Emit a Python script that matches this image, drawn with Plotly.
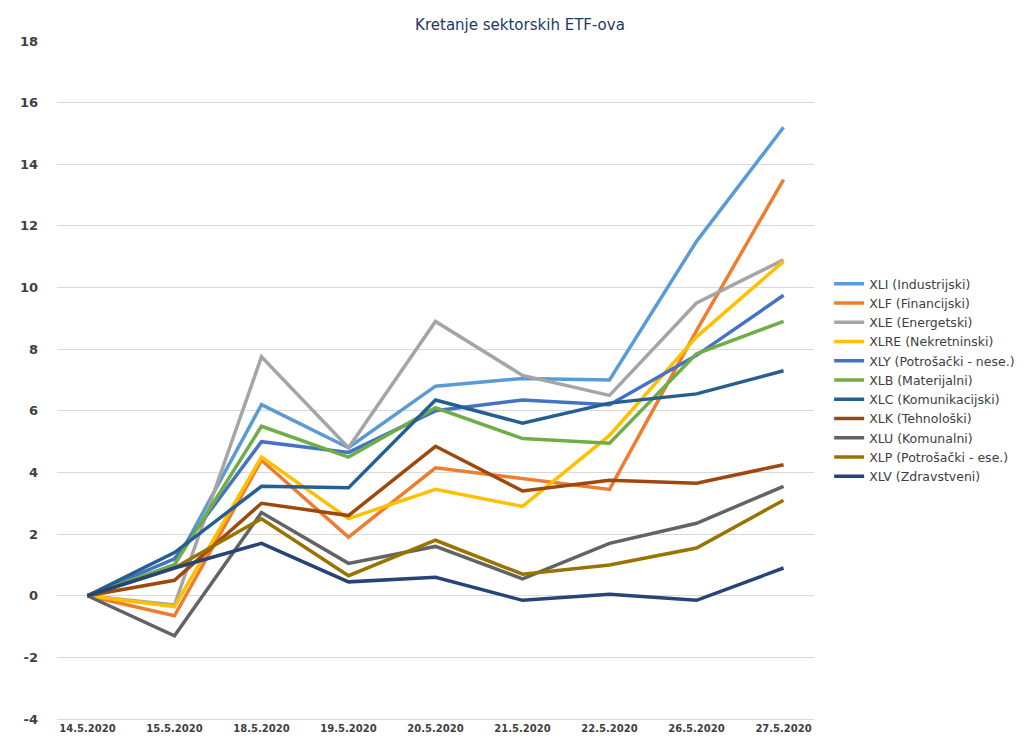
import plotly.graph_objects as go

dates = ["14.5.2020","15.5.2020","18.5.2020","19.5.2020","20.5.2020","21.5.2020","22.5.2020","26.5.2020","27.5.2020"]
names = ["XLI (Industrijski)","XLF (Financijski)","XLE (Energetski)","XLRE (Nekretninski)","XLY (Potrošački - nese.)",
         "XLB (Materijalni)","XLC (Komunikacijski)","XLK (Tehnološki)","XLU (Komunalni)","XLP (Potrošački - ese.)","XLV (Zdravstveni)"]
xli = [0, 1.0, 6.2, 4.8, 6.8, 7.05, 7.0, 11.5, 15.2]
xlf = [0, -0.65, 4.4, 1.9, 4.15, 3.8, 3.45, 8.6, 13.5]
xle = [0, -0.3, 7.75, 4.8, 8.9, 7.15, 6.5, 9.5, 10.9]
xlre = [0, -0.35, 4.5, 2.5, 3.45, 2.9, 5.2, 8.4, 10.85]
xly = [0, 1.2, 5.0, 4.65, 6.0, 6.35, 6.2, 7.8, 9.75]
xlb = [0, 1.0, 5.5, 4.5, 6.1, 5.1, 4.95, 7.85, 8.9]
xlc = [0, 1.4, 3.55, 3.5, 6.35, 5.6, 6.25, 6.55, 7.3]
xlk = [0, 0.5, 3.0, 2.6, 4.85, 3.4, 3.75, 3.65, 4.25]
xlu = [0, -1.3, 2.7, 1.05, 1.6, 0.55, 1.7, 2.35, 3.55]
xlp = [0, 0.9, 2.5, 0.65, 1.8, 0.7, 1.0, 1.55, 3.1]
xlv = [0, 0.9, 1.7, 0.45, 0.6, -0.15, 0.05, -0.15, 0.9]
series = [xli, xlf, xle, xlre, xly, xlb, xlc, xlk, xlu, xlp, xlv]
colors = ["#5B9BD5","#ED7D31","#A5A5A5","#FFC000","#4472C4","#70AD47","#255E91","#9E480E","#636363","#997300","#264478"]
yticks = list(range(-4, 19, 2))

fig = go.Figure()
for n, s, c in zip(names, series, colors):
    fig.add_trace(go.Scatter(x=dates, y=s, name=n, mode="lines", line=dict(color=c, width=3.5)))

fig.update_layout(
    width=1024, height=745, paper_bgcolor="white", plot_bgcolor="white",
    margin=dict(l=42, r=218, t=33, b=34),
    title=dict(text="Kretanje sektorskih ETF-ova", x=0.5, xanchor="center", y=0.985,
               font=dict(family="DejaVu Sans", size=15, color="#1F3864")),
    font=dict(family="DejaVu Sans", color="#404040"),
    legend=dict(x=1.02, y=0.5, yanchor="middle", font=dict(size=12.5), tracegroupgap=0,
                itemwidth=30, bgcolor="rgba(0,0,0,0)"),
    showlegend=True,
)
fig.update_xaxes(type="category", showgrid=False, showline=True, linecolor="#D9D9D9",
                 tickfont=dict(size=10, family="DejaVu Sans", weight="bold"), range=[-0.35, 8.35])
fig.update_yaxes(range=[-4, 18], tickvals=yticks, ticktext=[str(v) for v in yticks],
                 gridcolor="#D9D9D9", zeroline=False,
                 tickfont=dict(size=13, family="DejaVu Sans", weight="bold"), ticklabelstandoff=18)
fig.write_html("out.html")
